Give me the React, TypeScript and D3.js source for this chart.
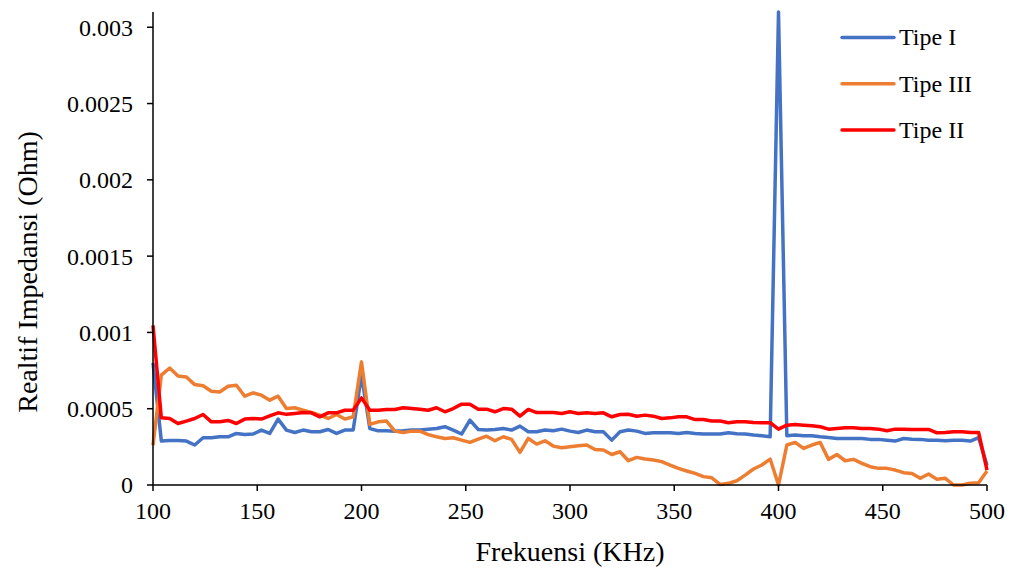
import * as d3 from 'd3'

// values are read in units of 1e-4 Ohm, one point every 4 KHz from 100 to 500
const UNIT = 1e-4
const freqs = d3.range(100, 501, 4)

const tipe1 = [
  8.0, 2.88, 2.92, 2.92, 2.88, 2.62, 3.1, 3.1, 3.16, 3.16,
  3.38, 3.31, 3.34, 3.6, 3.38, 4.32, 3.6, 3.44, 3.6, 3.49,
  3.49, 3.64, 3.38, 3.6, 3.6, 7.2, 3.7, 3.55, 3.55, 3.53,
  3.55, 3.6, 3.6, 3.66, 3.7, 3.82, 3.6, 3.34, 4.25, 3.64,
  3.6, 3.64, 3.7, 3.6, 3.86, 3.49, 3.49, 3.6, 3.55, 3.66,
  3.53, 3.44, 3.6, 3.49, 3.49, 2.94, 3.49, 3.6, 3.53, 3.38,
  3.42, 3.42, 3.42, 3.38, 3.44, 3.38, 3.34, 3.34, 3.34, 3.42,
  3.36, 3.34, 3.27, 3.23, 3.16, 31, 3.23, 3.27, 3.23, 3.23,
  3.16, 3.12, 3.05, 3.05, 3.05, 3.05, 2.99, 2.99, 2.94, 2.88,
  3.05, 3.0, 2.99, 2.94, 2.94, 2.9, 2.94, 2.94, 2.88, 3.1,
  1.3,
]

const tipe3 = [
  2.6, 7.2, 7.67, 7.15, 7.08, 6.58, 6.5, 6.15, 6.1, 6.47,
  6.54, 5.82, 6.04, 5.89, 5.56, 5.82, 5.01, 5.06, 4.9, 4.75,
  4.58, 4.36, 4.62, 4.32, 4.47, 8.07, 3.97, 4.14, 4.19, 3.53,
  3.44, 3.53, 3.53, 3.3, 3.16, 3.05, 3.1, 2.94, 2.79, 3.0,
  3.2, 2.9, 3.16, 2.99, 2.14, 3.05, 2.68, 2.9, 2.55, 2.44,
  2.51, 2.57, 2.62, 2.33, 2.29, 2.0, 2.18, 1.59, 1.81, 1.7,
  1.64, 1.53, 1.31, 1.09, 0.92, 0.76, 0.55, 0.47, 0.04, 0.11,
  0.28, 0.65, 1.05, 1.31, 1.7, 0.0, 2.62, 2.79, 2.4, 2.62,
  2.79, 1.68, 2.0, 1.59, 1.68, 1.42, 1.2, 1.09, 1.09, 0.98,
  0.81, 0.76, 0.44, 0.72, 0.37, 0.44, 0.0, 0.0, 0.11, 0.15,
  0.92,
]

const tipe2 = [
  10.46, 4.4, 4.36, 4.03, 4.19, 4.36, 4.62, 4.14, 4.14, 4.23,
  4.03, 4.32, 4.36, 4.32, 4.53, 4.73, 4.63, 4.69, 4.75, 4.73,
  4.47, 4.73, 4.73, 4.9, 4.9, 5.71, 4.9, 4.9, 4.95, 4.95,
  5.06, 5.01, 4.97, 4.9, 5.06, 4.8, 5.01, 5.3, 5.3, 4.97,
  4.97, 4.8, 5.01, 4.97, 4.51, 4.95, 4.75, 4.75, 4.75, 4.69,
  4.8, 4.69, 4.73, 4.69, 4.73, 4.47, 4.62, 4.64, 4.51, 4.58,
  4.51, 4.36, 4.4, 4.47, 4.47, 4.29, 4.29, 4.2, 4.19, 4.08,
  4.14, 4.14, 4.1, 4.08, 4.08, 3.66, 3.92, 3.97, 3.92, 3.88,
  3.82, 3.66, 3.7, 3.75, 3.75, 3.7, 3.7, 3.66, 3.55, 3.66,
  3.66, 3.64, 3.64, 3.64, 3.42, 3.44, 3.49, 3.49, 3.44, 3.44,
  0.98,
]

const seriesNames = ['Tipe I', 'Tipe III', 'Tipe II']
const seriesColors = ['#4472C4', '#ED7D31', '#FF0000']
const seriesValues = [tipe1, tipe3, tipe2]

const xTicks = [100, 150, 200, 250, 300, 350, 400, 450, 500]
const yTicks = [0, 0.0005, 0.001, 0.0015, 0.002, 0.0025, 0.003]
const yTickLabels = ['0', '0.0005', '0.001', '0.0015', '0.002', '0.0025', '0.003']

const width = 1011
const height = 572
const font = '"Liberation Serif", "Times New Roman", serif'

export default function App() {
  const x = d3.scaleLinear().domain([100, 500]).range([153, 987])
  const y = d3.scaleLinear().domain([0, 0.0031]).range([485, 12])

  const line = d3.line<number>()
    .x((_, i) => x(freqs[i]))
    .y(d => y(d * UNIT))

  return (
    <svg width={width} height={height} style={{ position: 'absolute', left: 0, top: 0, background: '#fff' }}>
      {seriesValues.map((vals, s) => (
        <path key={s} d={line(vals) ?? ''} fill="none" stroke={seriesColors[s]}
          strokeWidth={3.5} strokeLinejoin="round" />
      ))}

      <line x1={x(100)} x2={x(100)} y1={y(0.0031)} y2={y(0)} stroke="#000" strokeWidth={1.5} />
      <line x1={x(100)} x2={x(500)} y1={y(0)} y2={y(0)} stroke="#000" strokeWidth={1.5} />

      {yTicks.map((t, i) => (
        <g key={t}>
          <line x1={x(100) - 6} x2={x(100)} y1={y(t)} y2={y(t)} stroke="#000" strokeWidth={1.5} />
          <text x={133} y={y(t)} dy="0.35em" textAnchor="end" fontFamily={font} fontSize={24}>
            {yTickLabels[i]}
          </text>
        </g>
      ))}

      {xTicks.map(t => (
        <g key={t}>
          <line x1={x(t)} x2={x(t)} y1={y(0)} y2={y(0) + 6} stroke="#000" strokeWidth={1.5} />
          <text x={x(t)} y={519} textAnchor="middle" fontFamily={font} fontSize={24}>{t}</text>
        </g>
      ))}

      <text x={570} y={561} textAnchor="middle" fontFamily={font} fontSize={28}>Frekuensi (KHz)</text>
      <text transform="translate(37,272) rotate(-90)" textAnchor="middle" fontFamily={font} fontSize={28}>
        Realtif Impedansi (Ohm)
      </text>

      {seriesNames.map((name, i) => (
        <g key={name} transform={`translate(0, ${37.5 + i * 46.3})`}>
          <line x1={842} x2={894} y1={0} y2={0} stroke={seriesColors[i]} strokeWidth={3.5} strokeLinecap="round" />
          <text x={899} y={0} dy="0.33em" fontFamily={font} fontSize={24}>{name}</text>
        </g>
      ))}
    </svg>
  )
}
